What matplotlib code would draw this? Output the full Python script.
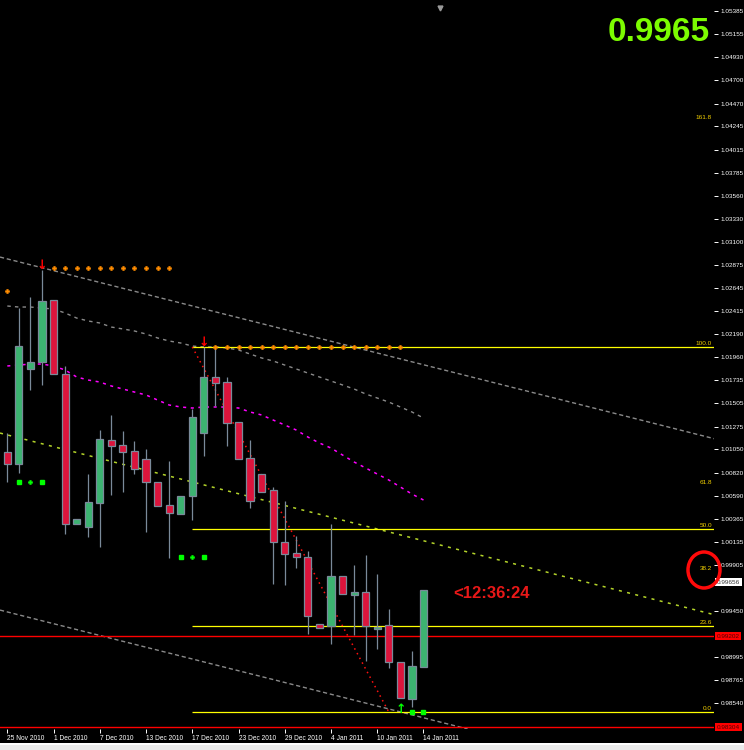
import matplotlib
matplotlib.use('Agg')
import matplotlib.pyplot as plt
import matplotlib.transforms as mtransforms
from matplotlib.patches import Ellipse, Rectangle

# ---------------- data ----------------
opens = [1.01023,1.00904,1.01844,1.01913,1.02526,1.01794,1.00311,1.00281,1.00518,1.01142,
         1.01092,1.01033,1.00954,1.00726,1.00499,1.00410,1.00588,1.01211,1.01765,1.01715,
         1.01320,1.00963,1.00805,1.00647,1.00133,1.00024,0.99984,0.99321,0.99302,0.99796,
         0.99608,0.99638,0.99272,0.99312,0.98946,0.98580,0.98896]
highs = [1.01211,1.02447,1.02556,1.02823,1.02526,1.01874,1.00360,1.00805,1.01240,1.01389,
         1.01231,1.01132,1.01053,1.00726,1.00934,1.00588,1.01448,1.02062,1.02052,1.01765,
         1.01320,1.01142,1.00805,1.00677,1.00538,1.00192,1.00044,0.99321,1.00311,0.99796,
         0.99905,1.00004,0.99816,0.99470,0.98946,0.99054,0.99656]
lows = [1.00726,1.00815,1.01636,1.01686,1.01794,1.00212,1.00311,1.00182,1.00083,1.00598,
        1.00627,1.00805,1.00232,1.00489,0.99974,1.00410,1.00350,1.00983,1.01478,1.01082,
        1.00954,1.00469,1.00627,0.99717,0.99707,0.99875,0.99223,0.99282,0.99124,0.99618,
        0.99213,0.98955,0.99074,0.98886,0.98589,0.98500,0.98896]
closes = [1.00904,1.02071,1.01913,1.02517,1.01794,1.00311,1.00360,1.00528,1.01151,1.01082,
          1.01023,1.00855,1.00726,1.00489,1.00419,1.00588,1.01369,1.01765,1.01705,1.01310,
          1.00954,1.00538,1.00627,1.00133,1.00014,0.99984,0.99401,0.99282,0.99796,0.99618,
          0.99638,0.99302,0.99292,0.98946,0.98589,0.98906,0.99656]

ma_gray = [1.02467,1.02457,1.02457,1.02447,1.02437,1.02398,1.02348,1.02319,1.02299,1.02259,
           1.02240,1.02220,1.02190,1.02151,1.02121,1.02101,1.02071,1.02062,1.02062,1.02052,
           1.02032,1.01992,1.01953,1.01923,1.01883,1.01844,1.01804,1.01765,1.01725,1.01686,
           1.01646,1.01597,1.01557,1.01517,1.01468,1.01419,1.01359]
ma_magenta = [1.01874,1.01883,1.01893,1.01893,1.01874,1.01834,1.01765,1.01735,1.01715,1.01676,
              1.01646,1.01616,1.01587,1.01537,1.01488,1.01468,1.01458,1.01468,1.01468,1.01468,
              1.01458,1.01419,1.01389,1.01339,1.01290,1.01240,1.01171,1.01112,1.01062,1.00993,
              1.00924,1.00865,1.00805,1.00746,1.00677,1.00607,1.00548]

# channel anchors (price at candle 0 and candle 36)
chan_upper = (1.02933, 1.01886)
chan_mid = (1.01192, 1.00145)
chan_lower = (0.99441, 0.98394)

# fibonacci retracement
fib_anchor_x = (16, 33)
fib_high, fib_low = 1.02062, 0.98451
fib_levels_drawn = [0.0, 23.6, 50.0, 100.0]
fib_levels_labels = [0.0, 23.6, 38.2, 50.0, 61.8, 100.0, 161.8]

# horizontal red lines
red_lines = [0.99202, 0.98302]
red_line_labels = ['0.99202', '0.98304']
bid_price_box = 0.99737
bid_text = '0.99656'

# fractal levels
res1_price, res1_range = 1.02843, (4, 14)
res2_price, res2_range = 1.02062, (18, 34)
res_arrows = [(3, 1.02823), (17, 1.02062)]
single_dot = (0, 1.02615)
sup_levels = [(1.00726, [1, 2, 3]), (0.99984, [15, 16, 17]), (0.98451, [34, 35, 36])]

date_idx = [0, 4, 8, 12, 16, 20, 24, 28, 32, 36]
date_labels = ['25 Nov 2010', '1 Dec 2010', '7 Dec 2010', '13 Dec 2010', '17 Dec 2010',
               '23 Dec 2010', '29 Dec 2010', '4 Jan 2011', '10 Jan 2011', '14 Jan 2011']

price_ticks = [1.05385, 1.05155, 1.04930, 1.04700, 1.04470, 1.04245, 1.04015, 1.03785,
               1.03560, 1.03330, 1.03100, 1.02875, 1.02645, 1.02415, 1.02190, 1.01960,
               1.01735, 1.01505, 1.01275, 1.01050, 1.00820, 1.00590, 1.00365, 1.00135,
               0.99905, 0.99450, 0.98995, 0.98765, 0.98540]

big_value = '0.9965'
timer_text = '<12:36:24'

# ---------------- figure ----------------
W, H = 744, 750
fig = plt.figure(figsize=(W / 100, H / 100), dpi=100, facecolor='black')
ax_l, ax_r, ax_t, ax_b = 0, 714, 0, 729
ax = fig.add_axes([ax_l / W, (H - ax_b) / H, (ax_r - ax_l) / W, (ax_b - ax_t) / H])
ax.set_facecolor('black')
ax.set_xlim(-0.632, 61.13)
ax.set_ylim(0.98283, 1.05494)
for s in ax.spines.values():
    s.set_visible(False)

FONT = 'Liberation Sans'

# channel lines
ax.axline((0, chan_upper[0]), (36, chan_upper[1]), color='#8a8a8a', lw=1.0,
          dashes=(3, 2), zorder=1)
ax.axline((0, chan_mid[0]), (36, chan_mid[1]), color='#b4d42a', lw=1.1,
          dashes=(2, 3.5), zorder=1)
ax.axline((0, chan_lower[0]), (36, chan_lower[1]), color='#8a8a8a', lw=1.0,
          dashes=(3, 2), zorder=1)

n = len(opens)
xs = list(range(n))
ax.plot(xs, ma_gray, color='#8a8a8a', lw=1.0, dashes=(2.5, 3), zorder=1)
ax.plot(xs, ma_magenta, color='#ff00ff', lw=1.1, dashes=(2, 3), zorder=1)

# fib
for lv in fib_levels_drawn:
    p = fib_low + (fib_high - fib_low) * lv / 100.0
    ax.hlines(p, fib_anchor_x[0], 70, color='#ffff00', lw=0.9, zorder=2)
blend = mtransforms.blended_transform_factory(ax.transAxes, ax.transData)
for lv in fib_levels_labels:
    p = fib_low + (fib_high - fib_low) * lv / 100.0
    ax.text(0.997, p + 0.00012, f'{lv:.1f}', transform=blend, ha='right', va='bottom',
            color='#f2d000', fontsize=4.6, family=FONT, zorder=5)
ax.plot(list(fib_anchor_x), [fib_high, fib_low], color='#ff1010', lw=1.1,
        dashes=(1, 2.5), zorder=3)

# red horizontal lines
for p in red_lines:
    ax.axhline(p, color='#ff0000', lw=1.0, zorder=2)

# candles
for i in range(n):
    o, h, l, c = opens[i], highs[i], lows[i], closes[i]
    col = '#3cb371' if c >= o else '#dc143c'
    ax.vlines(i, l, h, color='#7a8a9a', lw=0.9, zorder=3)
    ax.bar(i, abs(c - o), bottom=min(o, c), width=0.62, color=col,
           edgecolor='#7a8a9a', linewidth=0.9, zorder=4)

# fractal resistance dots
dot_kw = dict(ls='none', marker='P', ms=3.2, color='#ff8c00', mec='#ff8c00', mew=0.3, zorder=5)
ax.plot(range(res1_range[0], res1_range[1] + 1),
        [res1_price] * (res1_range[1] - res1_range[0] + 1), **dot_kw)
ax.plot(range(res2_range[0], res2_range[1] + 1),
        [res2_price] * (res2_range[1] - res2_range[0] + 1), **dot_kw)
ax.plot([single_dot[0]], [single_dot[1]], **dot_kw)
for xi, p in res_arrows:
    ax.text(xi, p - 0.0002, '↓', ha='center', va='bottom', color='#ff0000',
            fontsize=9, fontweight='bold', family='DejaVu Sans', zorder=6)

# support dots
for k, (p, idxs) in enumerate(sup_levels):
    for j, xi in enumerate(idxs):
        if k == 2 and j == 0:
            ax.text(xi, p + 0.0002, '↑', ha='center', va='center', color='#00ff00',
                    fontsize=9, fontweight='bold', family='DejaVu Sans', zorder=6)
        elif j == 1 and k < 2:
            ax.plot([xi], [p], ls='none', marker='P', ms=3.2, color='#00ff00', mew=0.3, zorder=6)
        else:
            ax.plot([xi], [p], ls='none', marker='s', ms=2.6, color='#00ff00', zorder=6)

# axes ticks
ax.yaxis.tick_right()
ax.set_yticks(price_ticks)
ax.set_yticklabels([f'{p:.5f}' for p in price_ticks])
ax.tick_params(axis='y', colors='white', length=3, width=0.7, pad=2, labelsize=4.6,
               direction='out')
ax.set_xticks(date_idx)
ax.set_xticklabels(date_labels)
ax.tick_params(axis='x', colors='white', length=3, width=0.7, pad=1, labelsize=4.8,
               direction='out')
for t in ax.get_xticklabels():
    t.set_horizontalalignment('left')
    t.set_family(FONT)
for t in ax.get_yticklabels():
    t.set_family(FONT)

# price label boxes on axis
for p, lab in zip(red_lines, red_line_labels):
    ax.text(1.004, p, lab, transform=blend, ha='left', va='center', fontsize=4.6,
            family=FONT, color='#500000',
            bbox=dict(boxstyle='square,pad=0.25', fc='#ff0000', ec='none'), clip_on=False)
ax.text(1.004, bid_price_box, bid_text, transform=blend, ha='left', va='center', fontsize=4.6,
        family=FONT, color='#333333',
        bbox=dict(boxstyle='square,pad=0.25', fc='white', ec='none'), clip_on=False)

# timer text
ax.text(38.55, closes[-1] - 0.0003, timer_text, ha='left', va='center', color='#e81818',
        fontsize=12, fontweight='bold', family=FONT, zorder=6)

# big value
ax.text(0.9944, 0.956, big_value, transform=ax.transAxes, ha='right', va='center',
        color='#7cfc00', fontsize=24, fontweight='bold', family=FONT, zorder=7)

# chart shift marker at top
ax.plot([0.616], [0.989], transform=ax.transAxes, marker='v', ms=3.5, color='#9a9a9a',
        ls='none', clip_on=False, zorder=7)

# red circle annotation
fig.patches.append(Ellipse((704 / W, 1 - 570 / H), 32 / W, 36 / H, transform=fig.transFigure,
                           fill=False, ec='#ff0a0a', lw=2.5, zorder=10))

# bottom strip
fig.patches.append(Rectangle((0, 0), 1, 5 / H, transform=fig.transFigure, fc='#ececec',
                             ec='none', zorder=0))
fig.patches.append(Rectangle((0, 5 / H), 1, 2 / H, transform=fig.transFigure, fc='white',
                             ec='none', zorder=0))

fig.savefig('out.png', dpi=100, facecolor='black')
